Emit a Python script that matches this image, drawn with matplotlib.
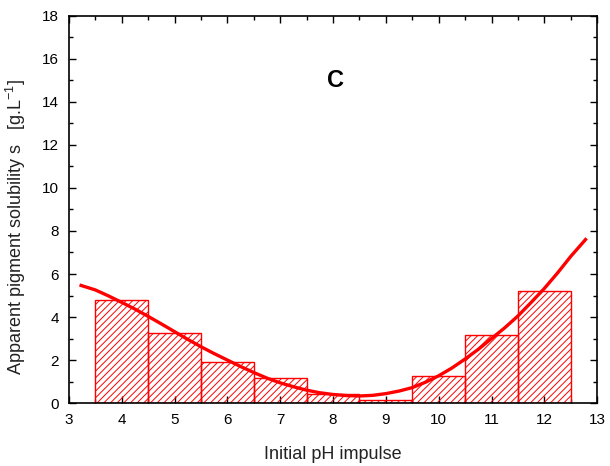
import matplotlib
matplotlib.use("Agg")
import matplotlib.pyplot as plt
from matplotlib.ticker import MultipleLocator

plt.rcParams['font.family'] = ['Liberation Sans', 'DejaVu Sans']
plt.rcParams['hatch.color'] = '#ff0000'
plt.rcParams['hatch.linewidth'] = 0.7

# Measured solubility per initial pH class
ph_classes = [4, 5, 6, 7, 8, 9, 10, 11, 12]
solubility = [4.77, 3.28, 1.92, 1.18, 0.42, 0.14, 1.27, 3.17, 5.23]

# Fitted trend curve
fit_ph = [3.2, 3.5, 3.75, 4.0, 4.25, 4.5, 4.75, 5.0, 5.25, 5.5, 5.75, 6.0,
          6.25, 6.5, 6.75, 7.0, 7.25, 7.5, 7.75, 8.0, 8.25, 8.5, 8.75, 9.0,
          9.25, 9.5, 9.75, 10.0, 10.25, 10.5, 10.75, 11.0, 11.25, 11.5,
          11.75, 12.0, 12.25, 12.5, 12.8]
fit_s = [5.49, 5.26, 4.98, 4.68, 4.37, 4.03, 3.68, 3.32, 2.96, 2.62, 2.30, 2.00,
         1.70, 1.42, 1.16, 0.94, 0.76, 0.60, 0.48, 0.40, 0.35, 0.33, 0.36, 0.44,
         0.56, 0.72, 0.97, 1.27, 1.63, 2.05, 2.50, 3.00, 3.50, 4.05,
         4.68, 5.33, 6.05, 6.82, 7.66]

x_ticks = list(range(3, 14))
y_ticks = list(range(0, 19, 2))

fig = plt.figure(figsize=(6.1, 4.66), dpi=100)
ax = fig.add_axes([0.113, 0.135, 0.866, 0.831])

ax.bar(ph_classes, solubility, width=1.0, facecolor='none', edgecolor='#ff0000',
       linewidth=1.0, hatch='/////', zorder=2)
ax.plot(fit_ph, fit_s, color='#ff0000', linewidth=2.4, zorder=3,
        solid_capstyle='butt')

ax.set_xlim(3, 13)
ax.set_ylim(0, 18)
ax.set_xticks(x_ticks)
ax.set_yticks(y_ticks)
ax.xaxis.set_minor_locator(MultipleLocator(0.5))
ax.yaxis.set_minor_locator(MultipleLocator(1))
ax.tick_params(which='both', direction='in', top=True, right=True, labelsize=11,
               width=1.0, colors='black')
ax.tick_params(which='major', length=5, pad=7)
ax.tick_params(which='minor', length=3)
for sp in ax.spines.values():
    sp.set_linewidth(1.2)

ax.set_xlabel('Initial pH impulse', fontsize=13, labelpad=14, color='#222222')
ax.set_ylabel('Apparent pigment solubility s   [g.L$^{\\mathregular{-1}}$]',
              fontsize=13, color='#222222')
ax.yaxis.set_label_coords(-0.078, 0.455)

ax.text(8.05, 14.98, 'C', fontsize=17, fontweight='bold', ha='center', va='center')

fig.savefig('out.png', dpi=100)
